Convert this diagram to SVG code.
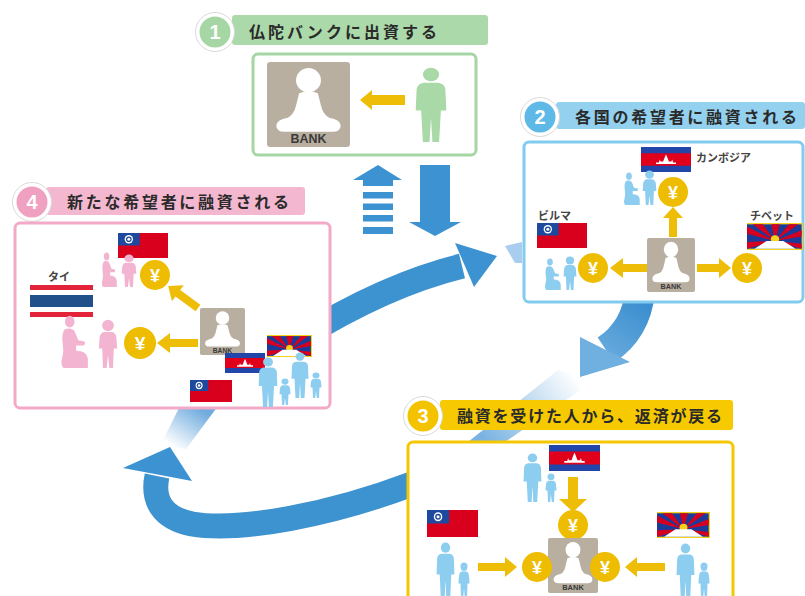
<svg xmlns="http://www.w3.org/2000/svg" width="805" height="596" viewBox="0 0 805 596">
<style>
  .hd{font-family:"Noto Sans CJK JP","Noto Sans",sans-serif;font-weight:700;font-size:16px;fill:#2a2a2a}
  .num{font-family:"Liberation Sans",Arial,sans-serif;font-weight:700;font-size:20px;fill:#fff;text-anchor:middle}
  .lbl{font-family:"Noto Sans CJK JP","Noto Sans",sans-serif;font-weight:700;font-size:11px;fill:#444}
  .ya{fill:#eebd08}
  .bl{fill:#3d93d1}
  .pb{fill:#8dcdf0}
  .pp{fill:#f2b4d0}
  .pg{fill:#a9d9a7}
  .ring{stroke:#fff;stroke-width:3}
  .halo{fill:#fff;stroke:#d9d9d9;stroke-width:1}
  .box{fill:#fff;stroke-width:3}
</style>
<defs>
  <symbol id="bank" viewBox="0 0 80 84" preserveAspectRatio="none">
    <rect width="80" height="84" rx="3" fill="#b9afa0"/>
    <circle cx="40" cy="18" r="12" fill="#fff"/>
    <path fill="#fff" d="M31,31 Q40,27 49,31 L52,43 Q54,52 60,55 Q71,57 71,63 Q71,69 63,69 L17,69 Q9,69 9,63 Q9,57 20,55 Q26,52 28,43 Z"/>
    <text x="40" y="80" text-anchor="middle" font-family="'Liberation Sans',Arial,sans-serif" font-weight="700" font-size="12" fill="#3a3a3a">BANK</text>
  </symbol>
  <symbol id="coin" viewBox="0 0 30 30">
    <circle cx="15" cy="15" r="15" fill="#eebc00"/>
    <text x="15" y="21.5" text-anchor="middle" font-family="'Liberation Sans',Arial,sans-serif" font-weight="700" font-size="18" fill="#fff">¥</text>
  </symbol>
  <symbol id="adult" viewBox="0 0 20 50" preserveAspectRatio="none">
    <circle cx="10" cy="5" r="4.5"/>
    <path d="M6,10.5 L14,10.5 Q17.5,11 18,15 L18.5,29 L15.5,29 L14.5,50 L10.8,50 L10,34 L9.2,50 L5.5,50 L4.5,29 L1.5,29 L2,15 Q2.5,11 6,10.5 Z"/>
  </symbol>
  <symbol id="kneel" viewBox="0 0 30 40" preserveAspectRatio="none">
    <circle cx="11" cy="5" r="4.5"/>
    <path d="M7,10.5 Q14,9.5 16,13 L19,19 L25,20 Q26,22 24,23 L17,23 L17,27 Q27,27 28,33 L28,40 L5,40 Q2,37 4,32 L5,27 L4,18 Q4,12 7,10.5 Z"/>
  </symbol>
  <symbol id="child" viewBox="0 0 12 30" preserveAspectRatio="none">
    <circle cx="6" cy="4" r="3.5"/>
    <path d="M3.5,8 L8.5,8 Q10.5,8.5 11,11 L11.5,18 L9.5,18 L9,30 L6.8,30 L6,22 L5.2,30 L3,30 L2.5,18 L0.5,18 L1,11 Q1.5,8.5 3.5,8 Z"/>
  </symbol>
  <symbol id="fBurma" viewBox="0 0 60 30" preserveAspectRatio="none">
    <rect width="60" height="30" fill="#d8001c"/>
    <rect width="26" height="15" fill="#1d4a9e"/>
    <circle cx="13" cy="7.5" r="5" fill="#fff"/>
    <circle cx="13" cy="7.5" r="3.4" fill="#1d4a9e"/>
    <circle cx="13" cy="7.5" r="1.8" fill="#fff"/>
  </symbol>
  <symbol id="fCambodia" viewBox="0 0 60 30" preserveAspectRatio="none">
    <rect width="60" height="30" fill="#2145a8"/>
    <rect y="7.5" width="60" height="15" fill="#e1001b"/>
    <path fill="#fff" d="M18,20.5 L42,20.5 L42,18.5 L38.5,18.5 L37.5,15 L36.5,17.5 L33.5,17.5 L31,11 L30,9 L29,11 L26.5,17.5 L23.5,17.5 L22.5,15 L21.5,18.5 L18,18.5 Z"/>
  </symbol>
  <symbol id="fTibet" viewBox="0 0 60 30" preserveAspectRatio="none">
    <rect width="60" height="30" fill="#f3d21b"/>
    <rect x="0" y="1.5" width="58.5" height="27" fill="#1b3b9b"/>
    <g fill="#d5001f">
      <polygon points="30,20 0,28.5 0,21"/>
      <polygon points="30,20 0,12 0,4"/>
      <polygon points="30,20 6,1.5 17,1.5"/>
      <polygon points="30,20 26,1.5 35,1.5"/>
      <polygon points="30,20 45,1.5 55,1.5"/>
      <polygon points="30,20 58.5,8 58.5,15"/>
      <polygon points="30,20 58.5,23 58.5,28.5"/>
    </g>
    <circle cx="30" cy="18" r="4.5" fill="#f6d31a"/>
    <path d="M8,28.5 L21,20 L39,20 L52,28.5 Z" fill="#fff"/>
  </symbol>
  <linearGradient id="gB" gradientUnits="userSpaceOnUse" x1="640" y1="300" x2="590" y2="375">
    <stop offset="0" stop-color="#3b8ecf"/>
    <stop offset="1" stop-color="#78b5e3"/>
  </linearGradient>
  <linearGradient id="fadeB" gradientUnits="userSpaceOnUse" x1="575" y1="376" x2="486" y2="442">
    <stop offset="0" stop-color="#ffffff"/>
    <stop offset="1" stop-color="#7ab3e1"/>
  </linearGradient>
  <linearGradient id="fadeC" gradientUnits="userSpaceOnUse" x1="172" y1="446" x2="198" y2="407">
    <stop offset="0" stop-color="#ffffff"/>
    <stop offset="1" stop-color="#6fabde"/>
  </linearGradient>
</defs>

<!-- flow arrows between the steps -->
<g id="connectors">
  <!-- in / out of step 1 -->
  <polygon class="bl" points="378,165 402,180 393,180 393,186 363,186 363,180 353,180"/>
  <rect class="bl" x="363" y="192" width="30" height="6.5"/>
  <rect class="bl" x="363" y="203.5" width="30" height="6.5"/>
  <rect class="bl" x="363" y="215" width="30" height="6.5"/>
  <rect class="bl" x="363" y="227" width="30" height="7"/>
  <polygon class="bl" points="420,165 450,165 450,222 461,222 435,236 409,222 420,222"/>
  <!-- step 4 to step 2 -->
  <path d="M300,338 Q385,285 462,266" fill="none" stroke="#3d92d0" stroke-width="25"/>
  <polygon class="bl" points="455,243 497,256 474,287"/>
  <polygon fill="#a9cdee" points="505,246 522,242 522,263 515,263"/>
  <!-- step 2 to step 3 -->
  <polygon fill="url(#fadeB)" points="558,370 592,382 505,442 468,442"/>
  <path d="M640,292 Q636,330 606,350" fill="none" stroke="url(#gB)" stroke-width="30"/>
  <polygon fill="#6fb0e1" points="580,337 630,362 580,377"/>
  <!-- step 3 to step 4 -->
  <polygon fill="url(#fadeC)" points="160,446 186,449 218,406 180,406"/>
  <path d="M412,484 C330,515 240,532 192,524 C162,518 152,500 157,476" fill="none" stroke="#3d92d0" stroke-width="25"/>
  <polygon class="bl" points="123,468 192,481 170,447"/>
</g>

<!-- step 1 -->
<g id="step1">
  <rect x="232" y="15" width="256" height="30" rx="3" fill="#acd9a9"/>
  <circle cx="215" cy="32" r="19.5" class="halo"/>
  <circle cx="215" cy="32" r="17" fill="#a6d6a3" class="ring"/>
  <text class="num" x="215" y="39">1</text>
  <text class="hd" x="249" y="38" textLength="188" lengthAdjust="spacing">仏陀バンクに出資する</text>
  <rect class="box" x="253" y="54" width="223" height="101" rx="5" stroke="#a6d6a4"/>
  <use href="#bank" x="267" y="62" width="83" height="85"/>
  <polygon class="ya" points="360,100 372,90 372,95 405,95 405,105 372,105 372,110"/>
  <use href="#adult" class="pg" x="413" y="67" width="36" height="75"/>
</g>

<!-- step 2 -->
<g id="step2">
  <rect x="556" y="102" width="249" height="27" rx="3" fill="#93d1ef"/>
  <circle cx="540" cy="117" r="19.5" class="halo"/>
  <circle cx="540" cy="117" r="17" fill="#5fb9e7" class="ring"/>
  <text class="num" x="540" y="124">2</text>
  <text class="hd" x="575" y="123" textLength="222" lengthAdjust="spacing">各国の希望者に融資される</text>
  <rect class="box" x="524" y="142" width="279" height="160" rx="5" stroke="#80cbee"/>
  <use href="#fCambodia" x="641" y="147" width="50" height="25"/>
  <text class="lbl" x="696" y="162">カンボジア</text>
  <use href="#kneel" class="pb" x="622" y="172" width="19" height="33"/>
  <use href="#child" class="pb" x="642" y="170" width="15" height="35"/>
  <use href="#coin" x="658" y="177" width="30" height="30"/>
  <polygon class="ya" points="673,207 683,218 677,218 677,237 669,237 669,218 663,218"/>
  <text class="lbl" x="538" y="220">ビルマ</text>
  <use href="#fBurma" x="537" y="223" width="50" height="25"/>
  <text class="lbl" x="750" y="220">チベット</text>
  <use href="#fTibet" x="747" y="223" width="56" height="27"/>
  <use href="#bank" x="647" y="238" width="48" height="54"/>
  <polygon class="ya" points="610,268 623,258 623,264 647,264 647,272 623,272 623,278"/>
  <polygon class="ya" points="697,264 719,264 719,258 731,268 719,278 719,272 697,272"/>
  <use href="#coin" x="578" y="253" width="30" height="30"/>
  <use href="#coin" x="732" y="253" width="30" height="30"/>
  <use href="#kneel" class="pb" x="543" y="258" width="19" height="32"/>
  <use href="#child" class="pb" x="563" y="256" width="14" height="34"/>
</g>

<!-- step 4 -->
<g id="step4">
  <rect x="46" y="187" width="259" height="28" rx="3" fill="#f4b7d0"/>
  <circle cx="32" cy="202" r="19.5" class="halo"/>
  <circle cx="32" cy="202" r="17" fill="#f0a0c1" class="ring"/>
  <text class="num" x="32" y="209">4</text>
  <text class="hd" x="67" y="208" textLength="222" lengthAdjust="spacing">新たな希望者に融資される</text>
  <rect class="box" x="15" y="223" width="315" height="185" rx="5" stroke="#f2aac8"/>
  <use href="#fBurma" x="118" y="233" width="50" height="25"/>
  <use href="#kneel" class="pp" x="100" y="252" width="18" height="35"/>
  <use href="#child" class="pp" x="121" y="254" width="16" height="33"/>
  <use href="#coin" x="140" y="260" width="30" height="30"/>
  <g transform="translate(198,308) rotate(216.3)">
    <polygon class="ya" points="0,-4 25,-4 25,-10 37,0 25,10 25,4 0,4"/>
  </g>
  <text class="lbl" x="59" y="281" text-anchor="middle">タイ</text>
  <rect x="30" y="285" width="63" height="5" fill="#e2233a"/>
  <rect x="30" y="295" width="63" height="12" fill="#21508a"/>
  <rect x="30" y="312" width="63" height="5" fill="#e2233a"/>
  <use href="#kneel" class="pp" x="58" y="315" width="32" height="53"/>
  <use href="#child" class="pp" x="98" y="319" width="20" height="49"/>
  <use href="#coin" x="124" y="327" width="32" height="32"/>
  <polygon class="ya" points="157,343 170,333 170,339 198,339 198,347 170,347 170,353"/>
  <use href="#bank" x="200" y="308" width="45" height="47"/>
  <use href="#fTibet" x="267" y="335" width="45" height="22"/>
  <use href="#fCambodia" x="225" y="353" width="40" height="20"/>
  <use href="#fBurma" x="190" y="380" width="42" height="22"/>
  <use href="#adult" class="pb" x="257" y="357" width="22" height="50"/>
  <use href="#child" class="pb" x="279" y="378" width="12" height="27"/>
  <use href="#adult" class="pb" x="290" y="352" width="20" height="46"/>
  <use href="#child" class="pb" x="310" y="372" width="12" height="26"/>
</g>

<!-- step 3 -->
<g id="step3">
  <rect x="440" y="400" width="293" height="30" rx="3" fill="#f6c900"/>
  <circle cx="423" cy="416" r="19.5" class="halo"/>
  <circle cx="423" cy="416" r="17" fill="#f4c300" class="ring"/>
  <text class="num" x="423" y="423">3</text>
  <text class="hd" x="457" y="422" textLength="265" lengthAdjust="spacing">融資を受けた人から、返済が戻る</text>
  <rect class="box" x="408" y="442" width="325" height="170" rx="5" stroke="#f5c700"/>
  <use href="#fCambodia" x="549" y="445" width="51" height="26"/>
  <use href="#adult" class="pb" x="522" y="453" width="21" height="49"/>
  <use href="#child" class="pb" x="545" y="473" width="12" height="29"/>
  <polygon class="ya" points="568,477 578,477 578,499 587,499 573,512 559,499 568,499"/>
  <use href="#coin" x="558" y="510" width="30" height="30"/>
  <use href="#fBurma" x="427" y="510" width="51" height="27"/>
  <use href="#fTibet" x="657" y="512" width="53" height="26"/>
  <use href="#bank" x="548" y="538" width="50" height="55"/>
  <polygon class="ya" points="478,563 505,563 505,557 517,567 505,577 505,571 478,571"/>
  <polygon class="ya" points="625,567 637,557 637,563 665,563 665,571 637,571 637,577"/>
  <use href="#coin" x="522" y="552" width="30" height="30"/>
  <use href="#coin" x="590" y="552" width="30" height="30"/>
  <use href="#adult" class="pb" x="435" y="542" width="21" height="56"/>
  <use href="#child" class="pb" x="458" y="562" width="12" height="36"/>
  <use href="#adult" class="pb" x="675" y="543" width="21" height="55"/>
  <use href="#child" class="pb" x="698" y="562" width="12" height="36"/>
</g>
</svg>
